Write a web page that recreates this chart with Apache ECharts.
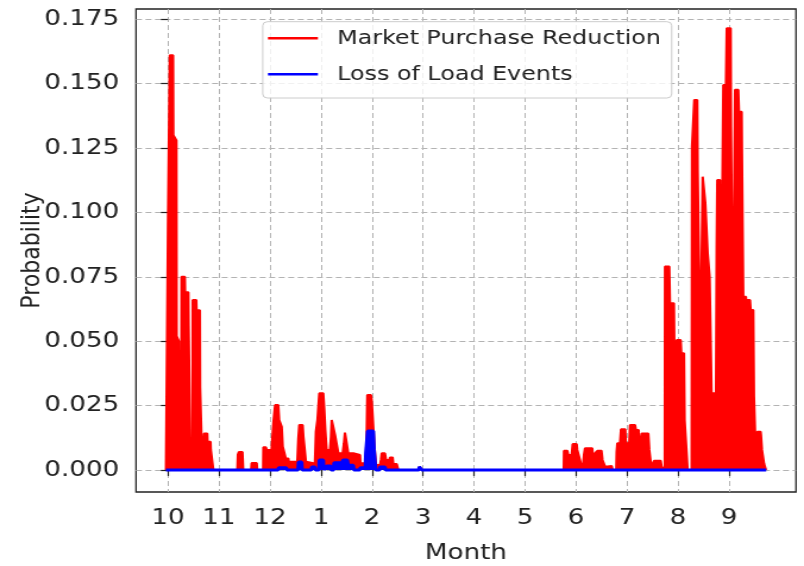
<!DOCTYPE html>
<html><head><meta charset="utf-8">
<script src="https://cdn.jsdelivr.net/npm/echarts@6/dist/echarts.min.js"></script>
<style>
html,body{margin:0;padding:0;background:#fff;overflow:hidden;}
#wrap{width:804px;height:566px;overflow:hidden;}
#chart{width:676px;height:566px;transform:scaleX(1.18935);transform-origin:0 0;}
</style></head><body>
<div id="wrap"><div id="chart"></div></div>
<script>
// Month index 0 = October ... 11 = September
const monthLabels = ['10','11','12','1','2','3','4','5','6','7','8','9'];
const monthPositions = [0,1,2,3,4,5,6,7,8,9,10,11];
const yTicks = [0,0.025,0.05,0.075,0.1,0.125,0.15,0.175];

const marketPurchaseReduction = [
 [-0.04,0],[-0.005,0],[0.0,0.096],[0.03,0.096],[0.035,0.161],[0.10,0.161],[0.105,0.130],[0.165,0.128],[0.17,0.052],[0.215,0.050],[0.225,0.012],[0.235,0.001],[0.26,0.002],[0.265,0.075],[0.33,0.075],[0.335,0.069],[0.40,0.069],[0.405,0.056],[0.43,0.056],[0.44,0.003],[0.48,0.002],[0.485,0.066],[0.555,0.066],[0.56,0.062],[0.625,0.062],[0.63,0.032],[0.66,0.032],[0.675,0.0],
 [0.70,0.0],[0.706,0.0142],[0.77,0.0142],[0.775,0.011],[0.835,0.011],[0.84,0.0078],[0.875,0.0078],[0.89,0],
 [1.36,0],[1.37,0.006],[1.39,0.007],[1.46,0.007],[1.475,0],
 [1.63,0],[1.64,0.0027],[1.74,0.0027],[1.75,0],
 [1.865,0],[1.87,0.0088],[1.92,0.0088],[1.935,0.0078],[2.03,0.0078],[2.065,0.0181],[2.10,0.0252],[2.163,0.0252],[2.18,0.0194],[2.23,0.0168],[2.25,0.0091],[2.29,0.0091],[2.31,0.0045],[2.36,0.0045],[2.37,0.0032],[2.535,0.0032],
 [2.555,0.012],[2.575,0.0175],[2.64,0.0175],[2.655,0.0129],[2.69,0.0129],[2.705,0.0032],[2.72,0.0025],[2.88,0.0025],
 [2.90,0.0149],[2.93,0.0194],[2.967,0.0298],[3.045,0.0298],[3.065,0.0233],[3.085,0.0155],[3.11,0.0078],[3.176,0.0078],[3.196,0.0129],[3.21,0.0194],[3.255,0.0194],[3.275,0.0136],[3.32,0.0136],[3.34,0.0065],[3.425,0.0065],[3.45,0.0104],[3.47,0.0145],[3.516,0.0145],[3.535,0.0065],[3.633,0.0065],[3.647,0.0058],[3.765,0.0058],[3.775,0.0026],[3.88,0.0026],
 [3.896,0.015],[3.908,0.0291],[3.98,0.0291],[3.994,0.0272],[4.04,0.0272],[4.053,0.0078],[4.08,0.0019],[4.157,0.0019],[4.176,0.004],[4.19,0.0065],[4.255,0.0065],[4.275,0.0039],[4.34,0.0039],[4.353,0.0049],[4.405,0.0049],[4.418,0.0023],[4.484,0.0023],[4.516,0],
 [4.92,0],[4.935,0.0013],[4.965,0.0013],[4.98,0],
 [7.76,0],[7.765,0.0075],[7.83,0.0075],[7.85,0.0058],[7.915,0.0058],[7.935,0.0101],[8.013,0.0101],[8.025,0.0078],[8.065,0.0078],[8.078,0.0039],[8.098,0.0039],[8.11,0.0013],[8.13,0],
 [8.15,0],[8.157,0.006],[8.176,0.0084],[8.32,0.0084],[8.34,0.0026],[8.36,0.0026],[8.373,0.0065],[8.418,0.0065],[8.425,0.0075],[8.50,0.0075],[8.52,0.0039],[8.555,0.0039],[8.57,0.0013],[8.60,0.0016],[8.70,0.0016],[8.72,0],
 [8.79,0],[8.797,0.007],[8.81,0.0104],[8.863,0.0104],[8.882,0.0158],[8.967,0.0158],[8.98,0.009],[8.994,0.0104],[9.045,0.0104],[9.059,0.0175],[9.157,0.0175],[9.176,0.0155],[9.23,0.0155],[9.24,0.0078],[9.268,0.0078],[9.288,0.0142],[9.418,0.0142],[9.437,0.0078],[9.465,0.0032],[9.484,0.0013],[9.516,0.0013],[9.53,0.0036],[9.66,0.0036],[9.68,0.0013],[9.725,0.0013],
 [9.74,0],[9.745,0.079],[9.83,0.079],[9.843,0.0647],[9.92,0.0647],[9.935,0.035],[9.955,0.035],[9.975,0.0505],[10.053,0.0505],[10.065,0.0453],[10.118,0.0453],[10.13,0.0194],[10.17,0.0194],[10.19,0],
 [10.268,0],[10.275,0.1256],[10.314,0.1256],[10.32,0.1437],[10.378,0.1437],[10.386,0.1165],[10.431,0.1165],[10.44,0.0427],[10.47,0.0427],[10.484,0.1139],[10.53,0.1139],[10.536,0.1036],[10.575,0.1036],[10.582,0.0841],[10.614,0.0841],[10.62,0.0751],[10.66,0.0751],[10.667,0.0194],[10.68,0.0298],[10.745,0.0298],[10.758,0.0867],[10.77,0.1126],[10.824,0.1126],[10.837,0.0324],[10.876,0.0324],[10.888,0.1495],[10.94,0.1495],[10.955,0.1715],[11.033,0.1715],[11.04,0.1333],[11.072,0.1333],[11.078,0.045],[11.104,0.045],[11.118,0.1476],[11.183,0.1476],[11.196,0.1391],[11.249,0.1391],[11.255,0.123],[11.275,0.123],[11.28,0.0673],[11.333,0.0673],[11.345,0.02],[11.355,0.03],[11.36,0.066],[11.412,0.066],[11.425,0.0621],[11.477,0.0621],[11.49,0.0285],[11.516,0.0285],[11.53,0.002],[11.55,0.002],[11.555,0.0149],[11.62,0.0149],[11.627,0.0136],[11.64,0.0136],[11.647,0.0078],[11.673,0.0078],[11.686,0.0026],[11.712,0.0026],[11.725,0],[11.73,0]
];

const lossOfLoadEvents = [
 [-0.04,0],[2.16,0],[2.17,0.0009],[2.32,0.0009],[2.33,0],
 [2.55,0],[2.56,0.0031],[2.62,0.0031],[2.63,0],
 [2.81,0],[2.82,0.0012],[2.88,0.0012],[2.89,0],
 [2.96,0],[2.967,0.0039],[3.045,0.0039],[3.055,0],
 [3.10,0],[3.11,0.0016],[3.19,0.0016],[3.20,0],
 [3.25,0],[3.255,0.0028],[3.405,0.0028],[3.43,0.0028],[3.437,0.0039],[3.516,0.0039],[3.535,0.0018],[3.633,0.0018],[3.645,0],
 [3.76,0],[3.77,0.0009],[3.87,0.0009],[3.88,0.0067],[3.908,0.0067],[3.915,0.0151],[4.026,0.0151],[4.04,0.008],[4.06,0.0028],[4.075,0],
 [4.15,0],[4.157,0.0012],[4.255,0.0012],[4.265,0],
 [4.92,0],[4.928,0.0013],[4.967,0.0013],[4.975,0],
 [11.73,0]
];

const seriesNames = ['Market Purchase Reduction','Loss of Load Events'];
const FONT = 'DejaVu Sans';
const chart = echarts.init(document.getElementById('chart'), null, {renderer:'canvas'});
const gridLine = {show:true, lineStyle:{color:'#b3b3b3', type:[5,3], width:1}};
chart.setOption({
  animation:false,
  backgroundColor:'#ffffff',
  grid:{left:114.35, right:6.73, top:9, bottom:74, show:true, borderColor:'#222', borderWidth:1.3, containLabel:false, outerBoundsMode:'none'},
  legend:{
    orient:'vertical', left:220.9, top:21.7,
    data:seriesNames,
    icon:'rect',
    itemWidth:42, itemHeight:2.5, itemGap:14,
    padding:[5.6,9,12.7,4.4],
    backgroundColor:'rgba(255,255,255,0.8)',
    borderColor:'#cccccc', borderWidth:1, borderRadius:4,
    textStyle:{fontFamily:FONT, fontSize:20, color:'#222', lineHeight:22, padding:[0,0,0,11.2]}
  },
  xAxis:{
    type:'value', min:-0.627, max:12.314,
    axisLine:{show:false},
    axisTick:{show:true, customValues:monthPositions, length:6, lineStyle:{color:'#222', width:1.2}},
    axisLabel:{customValues:monthPositions, formatter:(v)=>monthLabels[Math.round(v)], fontFamily:FONT, fontSize:22, color:'#222', margin:15},
    splitLine:gridLine,
    name:'Month', nameLocation:'middle', nameGap:50, nameMoveOverlap:false,
    nameTextStyle:{fontFamily:FONT, fontSize:22, color:'#222'}
  },
  yAxis:{
    type:'value', min:-0.00854, max:0.179,
    axisLine:{show:false},
    axisTick:{show:true, customValues:yTicks, length:6, lineStyle:{color:'#222', width:1.2}},
    axisLabel:{customValues:yTicks, formatter:(v)=>v.toFixed(3), fontFamily:FONT, fontSize:22, color:'#222', margin:14},
    splitLine:gridLine,
    name:'Probability', nameLocation:'middle', nameGap:76, nameRotate:90, nameMoveOverlap:false,
    nameTextStyle:{fontFamily:FONT, fontSize:22, color:'#222'}
  },
  series:[
    {name:seriesNames[0], type:'line', data:marketPurchaseReduction, symbol:'none', smooth:false,
     lineStyle:{color:'#ff0000', width:2}, itemStyle:{color:'#ff0000'},
     areaStyle:{color:'#ff0000', opacity:1}, z:2},
    {name:seriesNames[1], type:'line', data:lossOfLoadEvents, symbol:'none', smooth:false,
     lineStyle:{color:'#0000ff', width:3}, itemStyle:{color:'#0000ff'},
     areaStyle:{color:'#0000ff', opacity:1}, z:3}
  ]
});
</script>
</body></html>
